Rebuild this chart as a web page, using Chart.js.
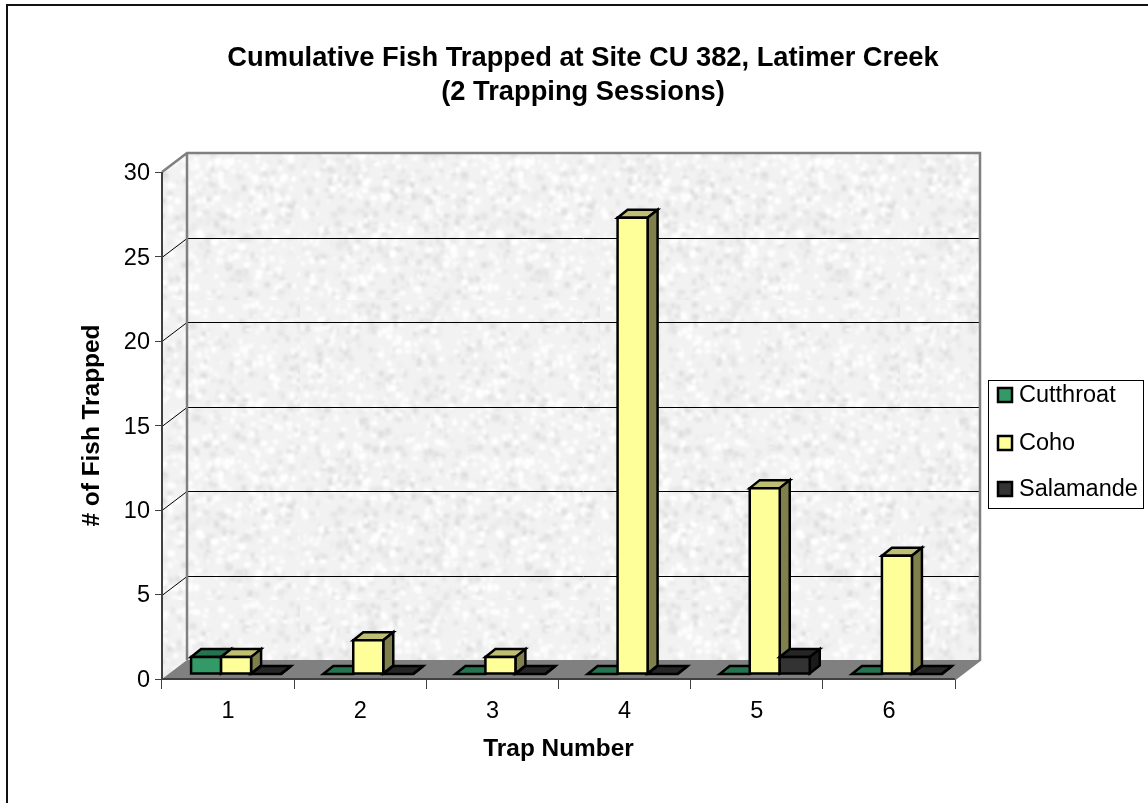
<!DOCTYPE html>
<html>
<head>
<meta charset="utf-8">
<title>Cumulative Fish Trapped</title>
<script src="https://cdn.jsdelivr.net/npm/chart.js@4/dist/chart.umd.min.js"></script>
<style>
  html, body { margin: 0; padding: 0; background: #fff; overflow: hidden; }
  canvas { display: block; }
</style>
</head>
<body>
<canvas id="fishChart" width="1148" height="803"></canvas>
<script>
const trapNumbers = ['1', '2', '3', '4', '5', '6'];
const cutthroat = [1, 0, 0, 0, 0, 0];
const coho = [1, 2, 1, 27, 11, 7];
const salamander = [0, 0, 0, 0, 1, 0];
const seriesNames = ['Cutthroat', 'Coho', 'Salamande'];
const titleLines = ['Cumulative Fish Trapped at Site CU 382, Latimer Creek', '(2 Trapping Sessions)'];

const FONT = '"Liberation Sans", Arial, sans-serif';
// front, top, side shades of each series
const SHADES = [
    ['#339966', '#267350', '#1a4d33'],
    ['#ffff99', '#bfbf73', '#80804d'],
    ['#333333', '#262626', '#1a1a1a']
];
const WALL_DX = 25, WALL_DY = -19;     // depth of the floor and walls
const BAR_DX = 8, BAR_DY = -5;         // bars stand a little behind the front edge
const DEPTH_DX = 10, DEPTH_DY = -8;    // depth of a bar
const BAR_LINE = 2.5;

// granite-like wall texture, seeded so each run looks the same
function makeTexture() {
    const c = document.createElement('canvas');
    c.width = c.height = 300;
    const g = c.getContext('2d');
    g.fillStyle = '#f2f2f2';
    g.fillRect(0, 0, 300, 300);
    let seed = 4711;
    const rnd = () => (seed = (seed * 16807) % 2147483647) / 2147483647;
    g.filter = 'blur(1.5px)';
    for (let i = 0; i < 1800; i++) {
        const v = rnd() < 0.55 ? 255 : 218 + Math.floor(rnd() * 20);
        g.fillStyle = `rgb(${v},${v},${v})`;
        g.fillRect(rnd() * 300, rnd() * 300, 2 + rnd() * 5, 2 + rnd() * 5);
    }
    return c;
}

function poly(ctx, pts, fill, stroke, lw) {
    ctx.beginPath();
    pts.forEach((p, i) => i ? ctx.lineTo(p[0], p[1]) : ctx.moveTo(p[0], p[1]));
    ctx.closePath();
    if (fill) { ctx.fillStyle = fill; ctx.fill(); }
    if (stroke) { ctx.strokeStyle = stroke; ctx.lineWidth = lw; ctx.lineJoin = 'miter'; ctx.stroke(); }
}

// reserves the space right of the plot and draws the boxed legend there
const legendBox = {
    position: 'right', weight: 0, fullSize: false, options: {},
    width: 193, height: 0,
    isHorizontal() { return false; },
    update(w, h) { this.width = 193; this.height = h; },
    draw() {
        const ctx = this.ctx;
        ctx.save();
        ctx.fillStyle = '#fff';
        ctx.strokeStyle = '#000';
        ctx.lineWidth = 1;
        ctx.fillRect(989, 380, 154, 128);
        ctx.strokeRect(988.5, 380.5, 155, 128);
        const rows = [395, 443, 489];
        ctx.font = '23.5px ' + FONT;
        ctx.textBaseline = 'middle';
        this.chart.data.datasets.forEach((ds, i) => {
            ctx.fillStyle = ds.backgroundColor;
            ctx.strokeStyle = '#000';
            ctx.lineWidth = 2.5;
            ctx.fillRect(998, rows[i] - 7, 14, 14);
            ctx.strokeRect(998, rows[i] - 7, 14, 14);
            ctx.fillStyle = '#000';
            ctx.fillText(ds.label, 1019, rows[i] + 1);
        });
        ctx.restore();
    }
};

const depth3d = {
    id: 'depth3d',
    install(chart) {
        legendBox.ctx = chart.ctx;
        legendBox.chart = chart;
        Chart.layouts.addBox(chart, legendBox);
    },
    beforeDraw(chart) {
        const ctx = chart.ctx;
        // only the top and left edges of the outer frame show
        ctx.save();
        ctx.strokeStyle = '#111';
        ctx.lineWidth = 2;
        ctx.beginPath();
        ctx.moveTo(7, 803);
        ctx.lineTo(7, 5);
        ctx.lineTo(1148, 5);
        ctx.stroke();
        ctx.restore();
    },
    beforeDatasetsDraw(chart) {
        const ctx = chart.ctx, y = chart.scales.y, a = chart.chartArea;
        const pattern = ctx.createPattern(makeTexture(), 'repeat');
        const L = a.left, R = a.right, T = a.top, B = a.bottom;
        ctx.save();
        // side wall
        poly(ctx, [[L, B], [L + WALL_DX, B + WALL_DY], [L + WALL_DX, T + WALL_DY], [L, T]], pattern);
        // back wall
        poly(ctx, [[L + WALL_DX, T + WALL_DY], [R + WALL_DX, T + WALL_DY], [R + WALL_DX, B + WALL_DY], [L + WALL_DX, B + WALL_DY]], pattern);
        // floor
        poly(ctx, [[L, B], [L + WALL_DX, B + WALL_DY], [R + WALL_DX, B + WALL_DY], [R, B]], '#808080');
        // gridlines run across the side wall and the back wall
        ctx.strokeStyle = '#000';
        ctx.lineWidth = 1;
        y.ticks.forEach(t => {
            if (t.value === 0 || t.value === y.max) return;
            const py = Math.round(y.getPixelForValue(t.value));
            ctx.beginPath();
            ctx.moveTo(L, py + 0.5);
            ctx.lineTo(L + WALL_DX, py + WALL_DY + 0.5);
            ctx.lineTo(R + WALL_DX, py + WALL_DY + 0.5);
            ctx.stroke();
        });
        // wall edges
        ctx.strokeStyle = '#808080';
        ctx.lineWidth = 2.5;
        ctx.beginPath();
        ctx.moveTo(L, T);
        ctx.lineTo(L + WALL_DX, T + WALL_DY);
        ctx.lineTo(R + WALL_DX, T + WALL_DY);
        ctx.lineTo(R + WALL_DX, B + WALL_DY);
        ctx.lineTo(R, B);
        ctx.moveTo(L + WALL_DX, T + WALL_DY);
        ctx.lineTo(L + WALL_DX, B + WALL_DY);
        ctx.stroke();
        // front edges of the box
        ctx.strokeStyle = '#404040';
        ctx.lineWidth = 2;
        ctx.beginPath();
        ctx.moveTo(L, T);
        ctx.lineTo(L, B);
        ctx.lineTo(R, B);
        ctx.stroke();
        ctx.restore();
    },
    // bars go left to right so a right neighbour hides the side of the left one
    beforeDatasetDraw() { return false; },
    afterDatasetsDraw(chart) {
        const ctx = chart.ctx;
        chart.data.datasets.forEach((ds, di) => {
            const meta = chart.getDatasetMeta(di);
            meta.data.forEach(bar => {
                const p = bar.getProps(['x', 'y', 'base', 'width'], true);
                const l = p.x - p.width / 2, r = p.x + p.width / 2;
                ctx.save();
                ctx.translate(BAR_DX, BAR_DY);
                poly(ctx, [[l, p.y], [r, p.y], [r + DEPTH_DX, p.y + DEPTH_DY], [l + DEPTH_DX, p.y + DEPTH_DY]], SHADES[di][1], '#000', BAR_LINE);
                poly(ctx, [[r, p.y], [r + DEPTH_DX, p.y + DEPTH_DY], [r + DEPTH_DX, p.base + DEPTH_DY], [r, p.base]], SHADES[di][2], '#000', BAR_LINE);
                // front face, outlined here so the line sits on the bar edge
                if (p.base - p.y > 0) poly(ctx, [[l, p.y], [r, p.y], [r, p.base], [l, p.base]], ds.backgroundColor, '#000', BAR_LINE);
                ctx.restore();
            });
        });
    }
};

new Chart(document.getElementById('fishChart'), {
    type: 'bar',
    plugins: [depth3d],
    data: {
        labels: trapNumbers,
        datasets: [cutthroat, coho, salamander].map((values, i) => ({
            label: seriesNames[i],
            data: values,
            backgroundColor: SHADES[i][0],
            borderColor: '#000',
            borderWidth: 2,
            categoryPercentage: 0.681,
            barPercentage: 1
        }))
    },
    options: {
        responsive: false,
        animation: false,
        layout: { padding: { left: 18 } },
        plugins: {
            legend: { display: false },
            tooltip: { enabled: false },
            title: {
                display: true,
                text: titleLines,
                color: '#000',
                font: { family: FONT, size: 27.3, weight: 'bold', lineHeight: 1.245 },
                padding: { top: 41, bottom: 63.1 }
            }
        },
        scales: {
            x: {
                grid: { drawOnChartArea: false, tickLength: 10, tickColor: '#404040', tickWidth: 1 },
                border: { display: false },
                ticks: { color: '#000', padding: 8, font: { family: FONT, size: 23.5 }, maxRotation: 0 },
                title: {
                    display: true, text: 'Trap Number', color: '#000',
                    font: { family: FONT, size: 24.4, weight: 'bold' },
                    padding: { top: 10, bottom: 39 }
                },
                afterFit(scale) { scale.height = 124; }
            },
            y: {
                min: 0, max: 30,
                grid: { drawOnChartArea: false, tickLength: 7, tickColor: '#404040', tickWidth: 1 },
                border: { display: false },
                ticks: { stepSize: 5, color: '#000', padding: 5, labelOffset: 1.5, font: { family: FONT, size: 23.5 } },
                title: {
                    display: true, text: '# of Fish Trapped', color: '#000',
                    font: { family: FONT, size: 24.4, weight: 'bold' },
                    padding: { top: 60, bottom: 0 }
                },
                afterFit(scale) { scale.width = 144; }
            }
        }
    }
});
</script>
</body>
</html>
